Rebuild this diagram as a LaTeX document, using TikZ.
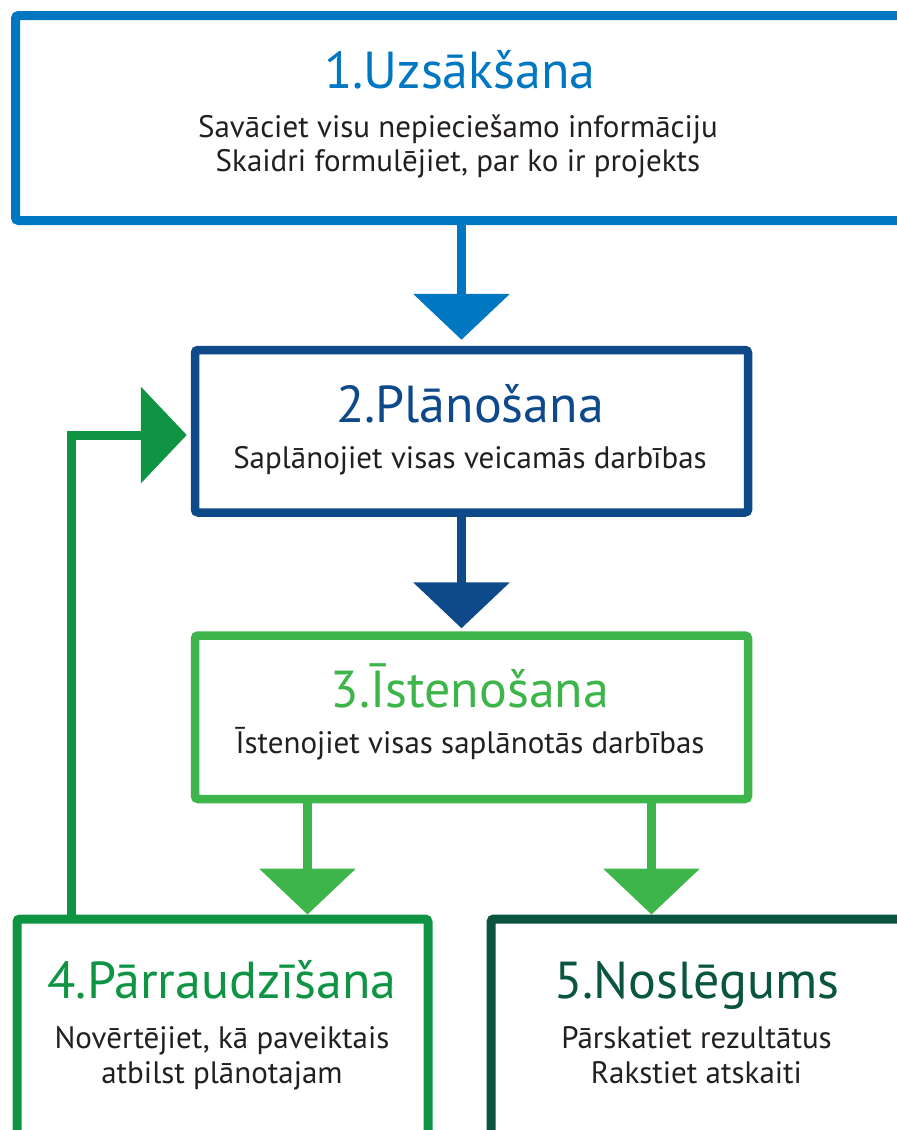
\documentclass[tikz,border=0pt]{standalone}
\usepackage{fontspec}
\setmainfont{PT Sans}
\usetikzlibrary{arrows.meta}
\definecolor{cOne}{HTML}{0077C1}
\definecolor{cTwo}{HTML}{0E4A8A}
\definecolor{cThree}{HTML}{3DB54A}
\definecolor{cFour}{HTML}{0F9444}
\definecolor{cFive}{HTML}{0A5540}
\definecolor{ink}{HTML}{231F20}
\tikzset{
  box/.style={line width=#1, rounded corners=3pt, inner sep=0pt, outer sep=0.5*#1, fill=white},
  title/.style={font=\fontsize{52}{58}\selectfont, inner sep=0pt, anchor=base},
  body/.style={font=\fontsize{31}{34}\selectfont, text=ink, inner sep=0pt, anchor=base},
  flow/.style={line width=9pt, -{Triangle[width=95pt,length=46pt]}},
}
\begin{document}
\begin{tikzpicture}[x=1pt,y=-1pt]
\useasboundingbox (0,0) rectangle (897,1130);
\clip (0,0) rectangle (897,1130);
% step boxes (stroke centre lines)
\node[box=9pt, draw=cOne, minimum width=889.5pt, minimum height=205pt] (b1) at (460.25,118) {};
\node[box=8.5pt, draw=cTwo, minimum width=553pt, minimum height=162.5pt] (b2) at (471.5,431.25) {};
\node[box=8.5pt, draw=cThree, minimum width=553pt, minimum height=163.5pt] (b3) at (471.5,717.25) {};
\node[box=9pt, draw=cFour, minimum width=411pt, minimum height=240pt] (b4) at (222.5,1039) {};
\node[box=9pt, draw=cFive, minimum width=414pt, minimum height=240pt] (b5) at (698,1039) {};
% texts
\node[title, text=cOne] (t1) at (460,88) {1.Uzsākšana};
\node[body] (d1a) at (458,137) {Savāciet visu nepieciešamo informāciju};
\node[body] (d1b) at (458,171) {Skaidri formulējiet, par ko ir projekts};
\node[title, text=cTwo] (t2) at (470,422) {2.Plānošana};
\node[body] (d2) at (470,468) {Saplānojiet visas veicamās darbības};
\node[title, text=cThree] (t3) at (470,707) {3.Īstenošana};
\node[body] (d3) at (470,753) {Īstenojiet visas saplānotās darbības};
\node[title, text=cFour] (t4) at (222,998) {4.Pārraudzīšana};
\node[body] (d4a) at (222,1048) {Novērtējiet, kā paveiktais};
\node[body] (d4b) at (222,1083) {atbilst plānotajam};
\node[title, text=cFive] (t5) at (697,998) {5.Noslēgums};
\node[body] (d5a) at (696.5,1048) {Pārskatiet rezultātus};
\node[body] (d5b) at (696.5,1083) {Rakstiet atskaiti};
% connectors
\coordinate (x1) at (461.5,0);
\coordinate (xl) at (307.5,0);
\coordinate (xr) at (651.5,0);
\coordinate (xf) at (71,0);
\coordinate (yf) at (0,435);
\draw[flow, color=cOne, shorten >=6pt] (b1.south -| x1) -- (b2.north -| x1);
\draw[flow, color=cTwo, shorten >=3pt] (b2.south -| x1) -- (b3.north -| x1);
\draw[flow, color=cThree] (b3.south -| xl) -- (b4.north -| xl);
\draw[flow, color=cThree] (b3.south -| xr) -- (b5.north -| xr);
\draw[flow, color=cFour, shorten >=4pt] (b4.north -| xf) |- (b2.west |- yf);
\end{tikzpicture}
\end{document}
